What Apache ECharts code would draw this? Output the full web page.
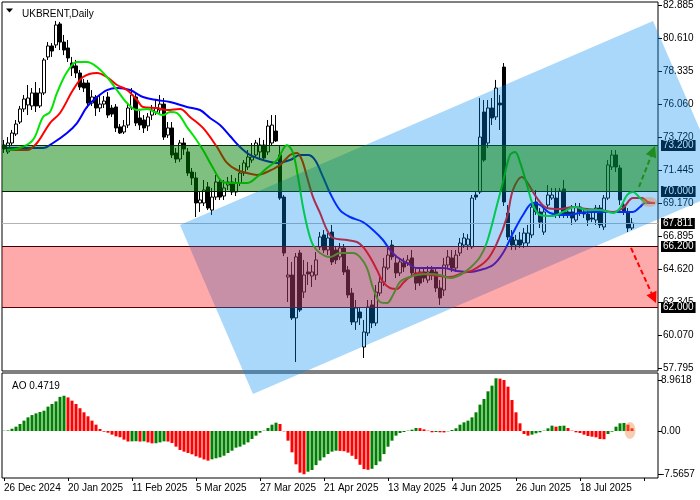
<!DOCTYPE html>
<html><head><meta charset="utf-8">
<script src="https://cdn.jsdelivr.net/npm/echarts@6/dist/echarts.min.js"></script>
<style>html,body{margin:0;padding:0;background:#fff}#c{width:700px;height:500px}</style>
</head><body><div id="c"></div>
<script>
const FONT = '"Liberation Sans", Arial, sans-serif';
const N_SLOTS = 164;
const xTickStep = 16;
const xTickLabels = ['26 Dec 2024','20 Jan 2025','11 Feb 2025','5 Mar 2025','27 Mar 2025','21 Apr 2025','13 May 2025','4 Jun 2025','26 Jun 2025','18 Jul 2025'];

const open = [
73.21,72.73,73.35,73.97,74.80,75.70,75.98,75.91,76.81,75.91,
76.81,79.30,80.06,80.13,81.58,80.33,79.92,78.88,78.68,78.19,
77.50,77.50,76.11,76.53,75.77,76.04,76.53,75.77,75.84,74.46,
74.11,74.59,75.77,76.53,75.08,74.94,74.53,75.28,75.49,75.63,
76.04,73.90,74.39,72.66,72.24,73.35,72.73,71.34,70.93,69.20,
69.20,70.31,68.71,69.61,70.65,69.68,70.44,70.65,69.96,70.58,
71.27,71.69,72.17,72.52,72.73,73.21,72.73,73.35,74.18,72.52,
69.61,64.08,64.22,61.25,65.74,63.04,64.43,64.15,64.22,66.16,
66.99,65.95,67.19,65.95,65.47,66.09,64.57,62.97,60.97,61.66,
59.24,60.21,62.15,60.90,62.97,63.73,64.70,66.29,65.05,64.36,
65.05,65.05,65.40,64.36,64.43,64.43,63.87,64.57,64.43,63.32,
63.18,64.91,65.40,64.70,65.74,66.29,66.29,66.16,69.75,69.96,
75.49,73.35,75.77,75.15,76.11,78.60,68.51,66.85,66.29,66.64,
66.43,66.43,66.99,69.27,68.58,67.19,69.06,69.54,69.54,68.37,
70.17,68.58,68.58,68.02,68.92,68.58,68.44,68.16,68.02,68.85,
67.54,69.54,71.69,72.52,71.62,69.06,68.51,67.47];
const high = [
73.56,73.76,74.25,74.94,75.91,76.67,77.36,77.15,77.57,77.15,
79.23,80.33,80.26,81.79,81.72,80.82,80.47,79.30,79.09,78.40,
77.77,77.71,77.01,76.67,76.60,76.60,76.87,75.98,76.04,74.66,
74.94,76.11,77.15,76.74,75.56,75.28,75.42,75.98,76.32,76.67,
76.46,74.80,74.80,73.00,73.56,73.70,73.00,71.62,71.34,70.00,
70.79,70.65,70.24,71.14,70.93,70.79,71.00,71.14,70.93,71.83,
72.17,72.86,73.35,73.56,73.70,73.56,74.94,75.28,75.28,73.21,
69.75,65.47,65.12,65.74,65.95,65.26,65.12,64.91,65.81,67.19,
67.33,67.12,67.68,66.23,66.43,66.36,64.84,63.32,62.49,62.01,
61.11,62.49,62.49,63.53,64.22,65.40,66.09,66.64,65.60,65.40,
65.40,65.60,65.95,64.70,64.70,64.70,64.84,64.84,64.70,63.87,
65.40,65.95,65.95,65.95,66.78,67.12,67.05,69.75,69.96,76.46,
76.32,76.32,76.46,77.71,76.67,78.88,69.06,67.33,66.99,67.19,
67.47,67.68,69.41,70.10,68.85,69.06,70.44,70.24,70.24,70.24,
70.79,68.85,69.06,69.20,69.20,68.85,68.85,68.58,69.06,69.06,
69.75,72.17,72.86,72.86,71.83,69.41,68.85,68.16];
const low = [
72.66,72.59,73.21,73.83,74.66,75.49,75.28,75.63,75.49,75.77,
76.67,79.09,79.30,79.92,79.78,79.43,78.95,77.98,77.84,77.01,
76.87,75.77,75.91,75.22,75.49,75.77,75.08,75.15,74.11,73.97,
73.97,74.39,75.63,74.52,74.25,74.04,74.18,74.94,75.28,75.28,
73.56,73.70,72.31,71.97,72.04,72.52,71.07,70.44,68.23,68.58,
68.99,68.71,68.37,69.41,69.41,69.41,70.10,69.75,69.68,70.37,
71.07,71.48,71.97,72.31,72.31,72.17,72.52,73.14,73.42,69.41,
65.53,62.35,61.11,58.20,61.66,62.63,63.53,63.39,63.87,65.95,
65.74,65.60,64.91,64.98,65.26,64.22,62.63,60.76,60.42,60.76,
58.48,60.00,60.55,60.69,62.77,63.46,64.57,65.26,64.01,64.15,
64.43,64.84,64.15,63.18,63.46,63.73,63.66,63.87,63.04,62.15,
62.77,64.70,64.43,64.43,65.53,66.09,65.95,66.02,69.41,69.82,
72.04,73.00,74.59,74.94,74.25,68.99,66.64,65.95,65.95,66.09,
66.09,66.16,66.78,68.37,67.47,66.99,68.85,69.41,68.16,68.16,
68.16,68.16,67.68,67.88,68.30,68.16,67.61,67.88,67.68,67.47,
67.33,69.41,71.48,71.34,69.06,68.37,67.19,67.33];
const close = [
72.93,73.35,74.04,74.66,75.70,76.39,76.46,76.81,75.91,76.81,
79.09,80.06,79.71,81.51,80.33,79.78,79.23,78.54,78.19,77.22,
77.15,76.11,76.53,75.77,76.04,76.25,75.28,75.35,74.39,74.04,
74.53,75.77,76.67,74.73,74.59,74.39,75.15,75.63,75.77,76.04,
73.76,74.39,72.52,72.24,73.35,72.93,71.27,70.93,69.20,69.41,
70.10,68.85,69.61,70.65,69.61,70.24,70.65,69.96,70.58,71.27,
71.97,72.38,72.38,73.35,73.21,72.31,74.52,74.59,73.49,69.54,
65.74,64.22,61.25,65.47,61.80,64.22,64.29,64.43,65.26,66.85,
65.95,66.78,65.12,65.26,66.09,64.43,62.84,60.97,61.94,61.25,
60.28,62.01,60.90,63.04,63.73,64.77,65.60,65.47,64.36,65.12,
64.77,65.26,64.36,63.66,63.66,64.01,64.43,64.22,63.32,62.63,
64.91,65.47,64.70,65.60,66.43,66.78,66.71,69.54,69.61,73.76,
72.17,75.77,75.08,77.15,75.98,69.27,66.85,66.29,66.64,66.29,
67.12,67.12,68.92,68.58,67.88,68.58,69.75,69.75,68.37,70.03,
68.37,68.37,68.16,68.92,68.58,68.44,68.02,68.09,68.85,67.68,
69.54,71.83,72.52,71.69,69.41,68.58,67.47,67.81];

// Alligator lines: [bar index, price]
const lipsGreen = [[0.75,72.86],[4,73.00],[7.25,73.56],[9.75,75.15],[11.5,75.49],[13.25,76.81],[15.75,78.26],[18.25,78.95],[20.75,78.95],[23.25,78.60],[25.75,77.91],[28.25,77.01],[30.75,76.11],[33.25,75.63],[35.75,75.70],[38.25,75.42],[39.75,75.28],[41.5,75.49],[43.25,75.42],[45.75,74.45],[47.25,73.90],[49.75,72.86],[52.25,71.62],[54.75,70.65],[57.25,70.58],[60.75,70.58],[63.25,71.00],[65.75,71.62],[68.25,72.17],[70.75,73.21],[72.25,72.66],[73.5,71.00],[74.75,68.92],[76,67.33],[77.25,66.29],[79,65.74],[81.5,65.46],[84,65.74],[87.25,65.74],[89,65.46],[90.75,64.70],[92.25,63.32],[94,62.35],[95.75,62.28],[97.25,62.84],[99,63.74],[100.75,64.01],[103.25,64.22],[106.5,64.29],[109,64.22],[111.5,64.01],[114,64.22],[116.5,64.70],[119,65.46],[120.75,66.50],[123.25,69.06],[124.75,70.65],[126.5,72.52],[127.75,72.73],[129,72.03],[130.75,70.44],[132.25,69.06],[134,68.37],[137.25,68.30],[139.75,68.58],[142.75,68.92],[145.75,68.71],[149,68.71],[152.25,68.51],[154,68.85],[155.75,69.75],[157.25,69.96],[159,69.54],[160.75,69.13]];
const teethRed = [[0.75,72.86],[5.75,72.86],[8.25,73.35],[11.5,74.73],[14,75.42],[17.25,77.01],[19.75,77.91],[23.25,78.19],[25.75,77.91],[28.25,77.36],[30.75,77.01],[33.25,76.32],[34.75,75.84],[38.25,75.77],[40.75,75.63],[44,75.70],[46.5,75.15],[49.75,74.39],[53.25,73.07],[55.75,71.97],[58.25,71.48],[60.75,71.27],[63.25,71.14],[65.75,71.34],[69,71.83],[71.5,72.52],[73.25,72.66],[74.5,72.17],[75.75,71.00],[77.25,69.61],[79,68.51],[80.75,67.33],[82.25,66.78],[85.75,66.64],[88.25,66.50],[89.75,66.16],[91.5,65.46],[93.25,64.56],[94.75,63.74],[96.5,63.32],[98.25,63.25],[99.75,63.66],[101.5,64.08],[104,64.36],[106.5,64.22],[109,64.15],[111.5,64.08],[114.75,64.36],[117.25,64.56],[120.75,65.26],[123.25,66.43],[125.75,68.23],[127.25,70.10],[129.5,71.00],[130.75,70.65],[133.25,69.54],[135.75,68.85],[139,68.78],[142.25,68.92],[145.75,68.78],[149,68.71],[152.25,68.58],[154.75,68.85],[157.25,69.54],[159.5,69.54],[161,69.27],[162.75,69.20]];
const jawBlue = [[0.75,73.00],[9.75,73.00],[12.25,73.35],[15.75,74.04],[18.25,74.73],[20.75,75.84],[23.25,76.53],[25.75,77.01],[28.25,77.15],[31.5,77.01],[34.75,76.53],[38.25,76.32],[41.5,76.18],[45.75,75.84],[49,75.63],[51.5,75.08],[54,74.59],[56.5,73.83],[59,73.07],[61.5,72.52],[64.75,72.17],[68.25,71.97],[71.5,72.17],[74,72.52],[76,72.52],[77.75,72.17],[79.75,71.00],[81.5,69.89],[84,68.71],[86.5,68.23],[89.75,67.88],[92.25,67.33],[94.75,66.64],[96.5,65.95],[98.25,65.46],[100.75,65.05],[103.25,64.70],[106.5,64.70],[109.75,64.70],[113.25,64.50],[116.5,64.43],[119,64.56],[122.25,64.91],[124.75,65.74],[127.25,67.12],[129.75,68.37],[132.25,69.20],[134,69.06],[136.5,68.51],[140.75,68.37],[144,68.51],[147.25,68.58],[151.5,68.58],[154.75,68.58],[157.25,68.58],[159,68.92],[160.25,69.20],[162.25,69.20]];

const ao = [
0.05,0.1,0.4,0.76,1.23,1.82,2.4,2.8,3.1,3.34,
3.57,4.28,4.75,5.2,6.0,6.2,5.9,5.33,4.75,4.0,
3.28,2.58,1.82,1.11,0.35,-0.12,-0.3,-0.64,-0.94,-1.1,
-1.52,-1.85,-1.82,-1.80,-1.86,-1.82,-2.0,-2.17,-2.15,-2.0,
-1.82,-1.86,-2.11,-2.75,-3.34,-3.63,-3.87,-4.1,-4.45,-4.69,
-5.0,-5.21,-4.98,-4.8,-4.63,-4.34,-3.87,-3.46,-2.93,-2.75,
-2.4,-2.0,-1.4,-0.82,-0.3,0.06,0.53,1.11,1.46,1.23,
-0.06,-1.7,-3.75,-5.86,-7.32,-7.6,-7.15,-6.85,-6.0,-5.2,
-4.63,-4.04,-3.63,-3.46,-3.5,-3.55,-3.8,-4.35,-4.94,-5.94,
-6.7,-6.82,-6.64,-6.0,-5.35,-4.06,-2.76,-1.7,-0.82,-0.35,
-0.18,0.06,0.23,0.53,0.50,0.29,0.06,-0.23,-0.18,-0.23,
-0.25,-0.06,0.18,0.47,1.11,1.52,1.82,2.4,3.28,4.63,
5.62,6.97,7.97,9.26,9.2,8.96,7.79,5.45,3.28,1.35,
-0.53,-0.82,-0.64,-0.41,-0.23,0.06,0.47,0.94,0.76,0.9,
0.94,0.53,0.06,-0.23,-0.35,-0.64,-0.88,-1.0,-1.11,-1.41,
-1.45,-0.53,-0.12,0.76,1.35,1.41,1.11,0.4719];

const priceTicks = [57.795,60.070,62.345,64.620,66.895,69.170,71.445,73.720,76.060,78.335,80.610,82.885];
const aoTicks = [-7.5657, 0, 8.9618];
const aoTickLabels = ['-7.5657','0.00','8.9618'];
const levels = [73.2, 70.0, 67.811, 66.2, 62.0];
const zones = [[70.0, 73.2], [62.0, 66.2]];
const channel = [[44, 67.68], [62.25, 55.99], [162.25, 81.79]]; // top-left, bottom-left, top-right
const arrows = [[[158.75, 70.31], [162.75, 73.14]], [[156.75, 66.09], [163, 62.28]]];
const markerMain = [161.25, 69.27];
const markerAO = [156, 0.1];

const levelColors = ['#000', '#000', '#b4b4b4', '#000', '#5a0000'];
const zoneColors = ['rgba(0,128,0,0.5)', 'rgba(255,0,0,0.333)'];
const arrowColors = ['#1e8c1e', '#ff0000'];

const cats = Array.from({length: N_SLOTS}, (_, i) => String(i));
const chart = echarts.init(document.getElementById('c'), null, {renderer: 'canvas'});

const option = {
  animation: false,
  textStyle: {fontFamily: FONT},
  title: [
    {text: 'UKBRENT,Daily', left: 17, top: 4, textStyle: {fontSize: 10, fontWeight: 'normal', color: '#000', fontFamily: FONT}},
    {text: 'AO 0.4719', left: 7, top: 376, textStyle: {fontSize: 10, fontWeight: 'normal', color: '#000', fontFamily: FONT}}
  ],
  graphic: [{type: 'polygon', shape: {points: [[6, 8.5], [13, 8.5], [9.5, 12.5]]}, style: {fill: '#000'}}],
  grid: [
    {left: 2, top: 2, width: 656, height: 369, show: true, borderColor: '#000', borderWidth: 1, backgroundColor: 'transparent'},
    {left: 2, top: 373, width: 656, height: 105, show: true, borderColor: '#000', borderWidth: 1, backgroundColor: 'transparent'}
  ],
  xAxis: [
    {type: 'category', gridIndex: 0, data: cats, boundaryGap: true, show: false},
    {type: 'value', gridIndex: 0, min: -0.5, max: N_SLOTS - 0.5, show: false},
    {type: 'category', gridIndex: 1, data: cats, boundaryGap: true,
     axisLine: {show: false, onZero: false},
     axisTick: {show: true, alignWithLabel: true, interval: (i) => i % xTickStep === 0, length: 3, lineStyle: {color: '#000'}},
     axisLabel: {interval: (i) => i % xTickStep === 0, formatter: (v, i) => xTickLabels[Math.round(i / xTickStep)] || '',
                 align: 'left', fontSize: 10, color: '#000', margin: 5, fontFamily: FONT}}
  ],
  yAxis: [
    {type: 'value', gridIndex: 0, position: 'right', min: 57.58, max: 83.10, splitLine: {show: false},
     axisLine: {show: false, onZero: false},
     axisTick: {show: true, customValues: priceTicks, length: 4, lineStyle: {color: '#000'}},
     axisLabel: {customValues: priceTicks, formatter: (v) => Number(v).toFixed(3), fontSize: 10, color: '#000', margin: 5, fontFamily: FONT}},
    {type: 'value', gridIndex: 1, position: 'right', min: -8.26, max: 10.19, splitLine: {show: false},
     axisLine: {show: false, onZero: false},
     axisTick: {show: true, customValues: aoTicks, length: 4, lineStyle: {color: '#000'}},
     axisLabel: {customValues: aoTicks, formatter: (v) => { const k = aoTicks.findIndex(t => Math.abs(t - v) < 1e-6); return k >= 0 ? aoTickLabels[k] : ''; },
                 fontSize: 10, color: '#000', margin: 3, fontFamily: FONT}}
  ],
  series: [
    {type: 'candlestick', xAxisIndex: 0, yAxisIndex: 0, z: 2, barWidth: 3,
     data: open.map((o, i) => [o, close[i], low[i], high[i]]),
     itemStyle: {color: '#fff', color0: '#000', borderColor: '#000', borderColor0: '#000', borderWidth: 1}},
    {type: 'line', name: 'jaw', xAxisIndex: 1, yAxisIndex: 0, z: 3, data: jawBlue, smooth: 0.35, showSymbol: false, lineStyle: {width: 2, color: '#0000ff'}},
    {type: 'line', name: 'teeth', xAxisIndex: 1, yAxisIndex: 0, z: 3, data: teethRed, smooth: 0.35, showSymbol: false, lineStyle: {width: 2, color: '#ff0000'}},
    {type: 'line', name: 'lips', xAxisIndex: 1, yAxisIndex: 0, z: 3, data: lipsGreen, smooth: 0.35, showSymbol: false, lineStyle: {width: 2, color: '#00e600'}},
    {type: 'custom', name: 'levels', xAxisIndex: 1, yAxisIndex: 0, z: 3, clip: false, silent: true,
     data: levels.map(v => [0, v]),
     renderItem: (params, api) => {
       const cs = params.coordSys; const i = params.dataIndex;
       const y = Math.round(api.coord([0, api.value(1)])[1]) + 0.5;
       return {type: 'group', children: [
         {type: 'line', shape: {x1: cs.x, y1: y, x2: cs.x + cs.width, y2: y}, style: {stroke: levelColors[i], lineWidth: 1}},
         {type: 'text', x: cs.x + cs.width + 3, y: y, style: {text: levels[i].toFixed(3), fill: '#fff', backgroundColor: '#000',
           padding: [1, 2, 0, 2], font: '10px ' + FONT, verticalAlign: 'middle', align: 'left'}}
       ]};
     }},
    {type: 'custom', name: 'channel', xAxisIndex: 1, yAxisIndex: 0, z: 5, clip: false, silent: true,
     data: [channel[0]],
     renderItem: (params, api) => {
       const [tl, bl, tr] = channel;
       const br = [bl[0] + tr[0] - tl[0], bl[1] + tr[1] - tl[1]];
       return {type: 'polygon', shape: {points: [tl, tr, br, bl].map(p => api.coord(p))}, style: {fill: 'rgba(0,138,240,0.333)'}};
     }},
    {type: 'custom', name: 'zones', xAxisIndex: 1, yAxisIndex: 0, z: 6, clip: false, silent: true,
     data: zones.map(z => [0, z[0], z[1]]),
     renderItem: (params, api) => {
       const cs = params.coordSys;
       const yTop = api.coord([0, api.value(2)])[1];
       const yBot = api.coord([0, api.value(1)])[1];
       return {type: 'rect', shape: {x: cs.x, y: yTop, width: cs.width, height: yBot - yTop}, style: {fill: zoneColors[params.dataIndex]}};
     }},
    {type: 'custom', name: 'arrows', xAxisIndex: 1, yAxisIndex: 0, z: 7, clip: false, silent: true,
     data: arrows.map(a => a[0]),
     renderItem: (params, api) => {
       const a = arrows[params.dataIndex]; const col = arrowColors[params.dataIndex];
       const p0 = api.coord(a[0]), p1 = api.coord(a[1]);
       const dx = p1[0] - p0[0], dy = p1[1] - p0[1]; const L = Math.hypot(dx, dy);
       const ux = dx / L, uy = dy / L, nx = -uy, ny = ux;
       const hl = 11, hw = 5.5;
       const bx = p1[0] - ux * hl, by = p1[1] - uy * hl;
       return {type: 'group', children: [
         {type: 'line', shape: {x1: p0[0], y1: p0[1], x2: bx, y2: by}, style: {stroke: col, lineWidth: 2, lineDash: [5, 3]}},
         {type: 'polygon', shape: {points: [[p1[0], p1[1]], [bx + nx * hw, by + ny * hw], [bx - nx * hw, by - ny * hw]]}, style: {fill: col}}
       ]};
     }},
    {type: 'scatter', xAxisIndex: 1, yAxisIndex: 0, z: 8, silent: true, data: [markerMain], symbol: 'circle', symbolSize: [16, 10],
     itemStyle: {color: 'rgba(240,130,60,0.5)'}},
    {type: 'bar', xAxisIndex: 2, yAxisIndex: 1, z: 2, barWidth: 3, data: ao,
     itemStyle: {color: (p) => (p.dataIndex === 0 || ao[p.dataIndex] > ao[p.dataIndex - 1]) ? '#008000' : '#ff0000'}},
    {type: 'scatter', xAxisIndex: 2, yAxisIndex: 1, z: 8, silent: true, data: [markerAO], symbol: 'circle', symbolSize: [11, 17], symbolOffset: [2, 0],
     itemStyle: {color: 'rgba(240,130,60,0.5)'}}
  ]
};
chart.setOption(option);
</script></body></html>
